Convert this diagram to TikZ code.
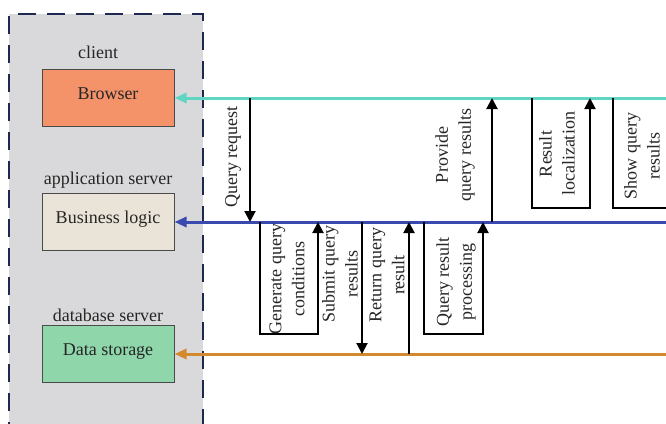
\documentclass[tikz,border=0pt]{standalone}
\usepackage{fontspec}
\setmainfont{Liberation Serif}
\usetikzlibrary{arrows.meta}
\definecolor{panelgray}{HTML}{D9D9DB}
\definecolor{navy}{HTML}{1E2850}
\definecolor{boxline}{HTML}{4A4A4A}
\definecolor{orangefill}{HTML}{F4926A}
\definecolor{beigefill}{HTML}{EAE3D8}
\definecolor{greenfill}{HTML}{8FD6AA}
\definecolor{cyanline}{HTML}{5ED6C3}
\definecolor{blueline}{HTML}{3A49B0}
\definecolor{orangeline}{HTML}{D38A2E}
\definecolor{txt}{HTML}{262626}
\begin{document}
\begin{tikzpicture}[x=1pt,y=-1pt,
  every node/.style={text=txt, font=\fontsize{18}{23}\selectfont},
  tierbox/.style={draw=boxline, line width=1pt, minimum width=132pt, minimum height=57pt,
    inner sep=0pt, text height=12pt, text depth=10pt},
  tierlabel/.style={inner sep=0pt},
  lane/.style={line width=3pt, -{Triangle[length=12pt,width=10pt]}},
  flow/.style={line width=2pt, black, -{Triangle[length=11pt,width=11pt]}},
  plainflow/.style={line width=2pt, black},
  vlabel/.style={rotate=90, align=center, inner sep=0pt},
  panelborder/.style={draw=navy, line width=2.5pt, dash pattern=on 18pt off 11pt}
]
\clip (0,0) rectangle (666,423);
\fill[white] (0,0) rectangle (666,423);
\fill[panelgray] (9,14) rectangle (203,440);
\draw[panelborder] (9,440) -- (9,14) -- (203,14) -- (203,440);

% tier labels and boxes
\node[tierlabel] (lclient) at (98,52) {client};
\node[tierbox, fill=orangefill] (browser) at (108,98) {Browser};
\node[tierlabel] (lapp) at (108,180) {application server};
\node[tierbox, fill=beigefill] (logic) at (108,222) {Business logic};
\node[tierlabel] (ldb) at (108,315) {database server};
\node[tierbox, fill=greenfill] (storage) at (108,354) {Data storage};

% lanes
\coordinate (cend) at (666,98);
\coordinate (bend) at (666,222);
\coordinate (oend) at (666,354);
\draw[lane, cyanline] (cend) -- (browser.east);
\draw[lane, blueline] (bend) -- (logic.east);
\draw[lane, orangeline] (oend) -- (storage.east);

% Query request
\coordinate (q1) at (250,98);
\coordinate (q2) at (250,222);
\draw[flow] (q1) -- (q2);
\node[vlabel] (tq) at (233,157) {Query request};

% Generate query conditions loop
\coordinate (g1) at (260,222);
\coordinate (g2) at (260,334);
\coordinate (g3) at (318,334);
\coordinate (g4) at (318,222);
\draw[flow] (g1) -- (g2) -- (g3) -- (g4);
\node[vlabel] (tg) at (287,279) {Generate query\\conditions};

% Submit query results / Return query result
\node[vlabel] (ts) at (340,274) {Submit query\\results};
\coordinate (s1) at (362,222);
\coordinate (s2) at (362,354);
\draw[flow] (s1) -- (s2);
\node[vlabel] (tr) at (387,275) {Return query\\result};
\coordinate (r1) at (409,354);
\coordinate (r2) at (409,222);
\draw[flow] (r1) -- (r2);

% Query result processing loop
\coordinate (p1) at (424,222);
\coordinate (p2) at (424,334);
\coordinate (p3) at (483,334);
\coordinate (p4) at (483,222);
\draw[flow] (p1) -- (p2) -- (p3) -- (p4);
\node[vlabel] (tp) at (456,282) {Query result\\processing};

% Provide query results
\coordinate (v1) at (492,222);
\coordinate (v2) at (492,98);
\draw[flow] (v1) -- (v2);
\node[vlabel] (tv) at (455,155) {Provide\\query results};

% Result localization loop
\coordinate (l1) at (532,98);
\coordinate (l2) at (532,208);
\coordinate (l3) at (590,208);
\coordinate (l4) at (590,98);
\draw[flow] (l1) -- (l2) -- (l3) -- (l4);
\node[vlabel] (tl) at (557,154) {Result\\localization};

% Show query results loop (cut at right edge)
\coordinate (h1) at (613,98);
\coordinate (h2) at (613,208);
\coordinate (h3) at (680,208);
\draw[plainflow] (h1) -- (h2) -- (h3);
\node[vlabel] (th) at (642,156) {Show query\\results};
\end{tikzpicture}
\end{document}
